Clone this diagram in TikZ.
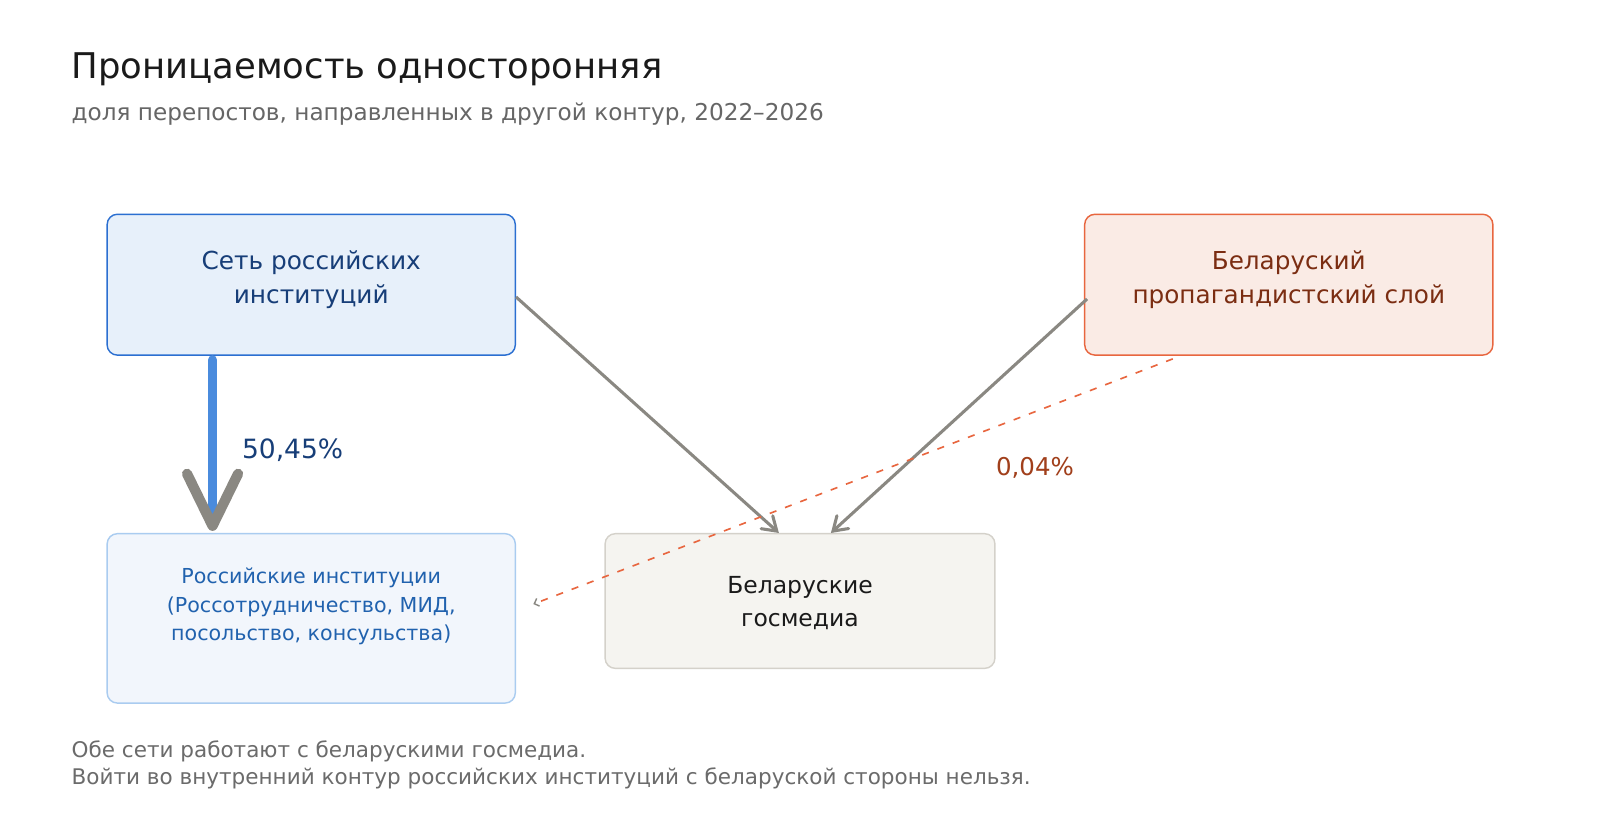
\documentclass[tikz,border=0pt]{standalone}
\usepackage{fontspec}
\setmainfont{DejaVu Sans}
\usetikzlibrary{arrows.meta,calc}
\definecolor{aBorder}{HTML}{2B6FD1}
\definecolor{aFill}{HTML}{E7F0FA}
\definecolor{aText}{HTML}{173E78}
\definecolor{bBorder}{HTML}{E8663F}
\definecolor{bFill}{HTML}{FAEBE5}
\definecolor{bText}{HTML}{7B2D12}
\definecolor{cBorder}{HTML}{AACCF0}
\definecolor{cFill}{HTML}{F2F6FC}
\definecolor{cText}{HTML}{2162AE}
\definecolor{dBorder}{HTML}{D4D1CA}
\definecolor{dFill}{HTML}{F5F4F0}
\definecolor{dText}{HTML}{1A1A1A}
\definecolor{arrGray}{HTML}{8A8882}
\definecolor{shaftBlue}{HTML}{4A8BDD}
\definecolor{lblRed}{HTML}{A13F1B}
\definecolor{titleCol}{HTML}{1A1A1A}
\definecolor{subCol}{HTML}{666666}
\definecolor{footCol}{HTML}{6B6B6B}
\begin{document}
\begin{tikzpicture}[x=1pt,y=-1pt,
  box/.style={rounded corners=10pt, line width=1.4pt, inner sep=0pt},
  boxtext/.style={align=center, anchor=base, inner sep=0pt},
  grayarrow/.style={draw=arrGray, line width=3pt,
    -{Straight Barb[length=13pt,width=17pt,line cap=round]}},
]
\useasboundingbox[fill=white] (0,0) rectangle (1568,819);

% title and subtitle
\node[anchor=base west, inner sep=0pt, text=titleCol,
  font=\fontsize{34.7}{40}\selectfont] (title) at (70,77) {Проницаемость односторонняя};
\node[anchor=base west, inner sep=0pt, text=subCol,
  font=\fontsize{22.7}{27}\selectfont] (subtitle) at (70,118) {доля перепостов, направленных в другой контур, 2022–2026};

% boxes
\node[box, draw=aBorder, fill=aFill, minimum width=400pt, minimum height=138pt] (A) at (305,279) {};
\node[box, draw=bBorder, fill=bFill, minimum width=400pt, minimum height=138pt] (B) at (1263,279) {};
\node[box, draw=cBorder, fill=cFill, minimum width=400pt, minimum height=166pt] (C) at (305,606) {};
\node[box, draw=dBorder, fill=dFill, minimum width=382pt, minimum height=132pt] (D) at (784,589) {};

% box texts (base anchor = baseline of last line)
\node[boxtext, text=aText, font=\fontsize{24.3}{33}\selectfont] (Atext) at (305,297.5) {Сеть российских\\институций};
\node[boxtext, text=bText, font=\fontsize{24.2}{33}\selectfont] (Btext) at (1263,297.5) {Беларуский\\пропагандистский слой};
\node[boxtext, text=cText, font=\fontsize{20.2}{27.7}\selectfont] (Ctext) at (305,627.5) {Российские институции\\(Россотрудничество, МИД,\\посольство, консульства)};
\node[boxtext, text=dText, font=\fontsize{23}{32}\selectfont] (Dtext) at (784,614) {Беларуские\\госмедиа};

% thick arrow A -> C
\coordinate (s1) at ($(A.south west)+(104,4)$);
\coordinate (s2) at ($(C.north west)+(104,-17)$);
\coordinate (tip) at ($(C.north west)+(104,-7)$);
\coordinate (h1) at ($(tip)+(-25,-51)$);
\coordinate (h2) at ($(tip)+(25,-51)$);
\draw[shaftBlue, line width=9pt, line cap=round] (s1) -- (s2);
\draw[arrGray, line width=10pt, line cap=round, line join=round] (h1) -- (tip) -- (h2);
\node[anchor=base west, inner sep=0pt, text=aText, font=\fontsize{26}{30}\selectfont] (l1) at (237,449) {50,45\%};

% gray arrows into D
\coordinate (aOut) at ($(A.east)+(0,12)$);
\coordinate (dIn1) at ($(D.north west)+(171,0)$);
\coordinate (bOut) at ($(B.west)+(3,14)$);
\coordinate (dIn2) at ($(D.north west)+(222,0)$);
\draw[grayarrow] (aOut) -- (dIn1);
\draw[grayarrow] (bOut) -- (dIn2);

% dashed B -> C
\coordinate (bDash) at ($(B.south west)+(87,3)$);
\coordinate (cDash) at ($(C.east)+(17,-14)$);
\draw[bBorder, line width=1.6pt, dash pattern=on 7pt off 9pt,
  -{Straight Barb[length=4pt,width=8pt,color=arrGray,line width=1.4pt]}] (bDash) -- (cDash);
\node[anchor=base west, inner sep=0pt, text=lblRed, font=\fontsize{24}{28}\selectfont] (l2) at (976,465.5) {0,04\%};

% footer
\node[anchor=base west, inner sep=0pt, align=left, text=footCol,
  font=\fontsize{21.1}{26.5}\selectfont] (foot) at (70,768.5) {Обе сети работают с беларускими госмедиа.\\Войти во внутренний контур российских институций с беларуской стороны нельзя.};
\end{tikzpicture}
\end{document}
